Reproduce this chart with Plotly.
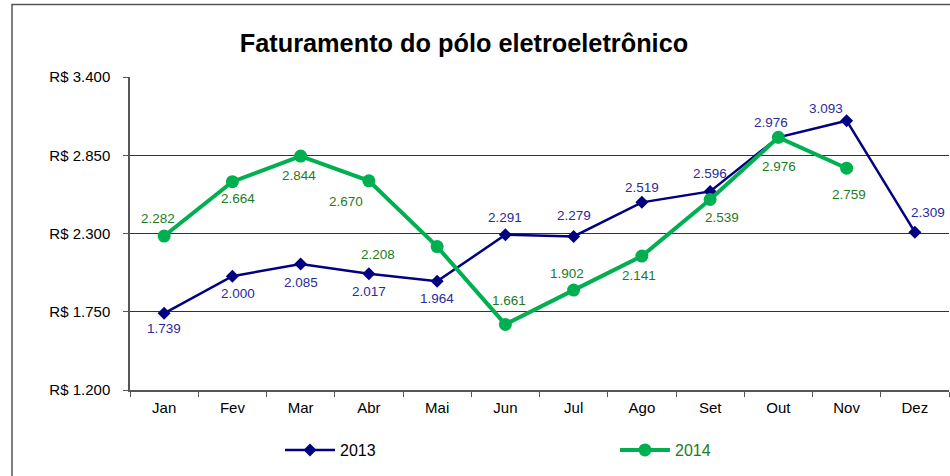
import plotly.graph_objects as go

months = ["Jan", "Fev", "Mar", "Abr", "Mai", "Jun", "Jul", "Ago", "Set", "Out", "Nov", "Dez"]
v2013 = [1739, 2000, 2085, 2017, 1964, 2291, 2279, 2519, 2596, 2976, 3093, 2309]
v2014 = [2282, 2664, 2844, 2670, 2208, 1661, 1902, 2141, 2539, 2976, 2759]
ytick_vals = [1200, 1750, 2300, 2850, 3400]
ytick_text = ["R$ 1.200", "R$ 1.750", "R$ 2.300", "R$ 2.850", "R$ 3.400"]

# label offsets (pixels, styling only)
off2013 = [(0, -15), (6, -17), (0, -18), (0, -18), (0, -17), (0, 17), (0, 21), (0, 15), (0, 18), (-7, 15), (-21, 12), (13, 20)]
off2014 = [(-6, 18), (6, -17), (-2, -19), (-23, -21), (-59, -8), (4, 24), (-7, 17), (-3, -19), (12, -18), (1, -29), (2, -26)]

C13 = "#000080"
C14 = "#00B050"
L13 = "#2B2B9B"
L14 = "#1E7B1E"
FONT = "Liberation Sans, Arial, sans-serif"

def fmt(v):
    return f"{v/1000:.3f}"

fig = go.Figure()
fig.add_trace(go.Scatter(
    x=months, y=v2013, name="2013", mode="lines+markers",
    line=dict(color=C13, width=2.5),
    marker=dict(symbol="diamond", size=10, color=C13),
    legend="legend", hoverinfo="skip"))
fig.add_trace(go.Scatter(
    x=months[:len(v2014)], y=v2014, name="2014", mode="lines+markers",
    line=dict(color=C14, width=4),
    marker=dict(symbol="circle", size=13, color=C14),
    legend="legend2", hoverinfo="skip"))

ann = []
for m, v, (dx, dy) in zip(months, v2013, off2013):
    ann.append(dict(x=m, y=v, text=fmt(v), showarrow=False, xshift=dx, yshift=dy,
                    font=dict(family=FONT, size=13.5, color=L13)))
for m, v, (dx, dy) in zip(months, v2014, off2014):
    ann.append(dict(x=m, y=v, text=fmt(v), showarrow=False, xshift=dx, yshift=dy,
                    font=dict(family=FONT, size=13.5, color=L14)))

W, H = 950, 476
L, R, T, B = 130, 1, 77, 86
pw, ph = W - L - R, H - T - B

fig.update_layout(
    width=W, height=H,
    margin=dict(l=L, r=R, t=T, b=B, autoexpand=False),
    paper_bgcolor="white", plot_bgcolor="white",
    font=dict(family=FONT, size=15, color="black"),
    title=dict(text="<b>Faturamento do pólo eletroeletrônico</b>",
               xref="container", x=464 / W, xanchor="center",
               yref="container", y=1 - 43 / H, yanchor="middle",
               font=dict(family=FONT, size=25.3, color="black")),
    annotations=ann,
    showlegend=True,
    legend=dict(x=(280 - L) / pw, y=-(450 - T - ph) / ph, xanchor="left", yanchor="middle",
                orientation="h", font=dict(family=FONT, size=16, color="black"),
                bgcolor="rgba(0,0,0,0)", itemwidth=50),
    legend2=dict(x=(615 - L) / pw, y=-(450 - T - ph) / ph, xanchor="left", yanchor="middle",
                 orientation="h", font=dict(family=FONT, size=16, color=L14),
                 bgcolor="rgba(0,0,0,0)", itemwidth=50),
    shapes=[dict(type="rect", xref="paper", yref="paper",
                 x0=(12 - L) / pw, x1=1.05, y0=-0.4, y1=1 + (T - 4.5) / ph,
                 line=dict(color="#555555", width=1.5), fillcolor="rgba(0,0,0,0)", layer="below")],
)
fig.update_xaxes(
    type="category", tickson="boundaries", ticks="outside", ticklen=5, tickcolor="#555555",
    showline=True, linecolor="#555555", linewidth=1.5, showgrid=False,
    ticklabelstandoff=3,
    tickfont=dict(family=FONT, size=15, color="black"), range=[-0.5, 11.5])
fig.update_yaxes(
    range=[1200, 3400], tickvals=ytick_vals, ticktext=ytick_text,
    ticks="outside", ticklen=5, tickcolor="#555555",
    showline=True, linecolor="#555555", linewidth=1.5,
    showgrid=True, gridcolor="#333333", gridwidth=1, zeroline=False,
    ticklabelstandoff=10,
    tickfont=dict(family=FONT, size=15, color="black"))

fig.write_html("out.html", config={"displayModeBar": False},
               post_script="document.body.style.margin='0';document.body.style.overflow='hidden';")
